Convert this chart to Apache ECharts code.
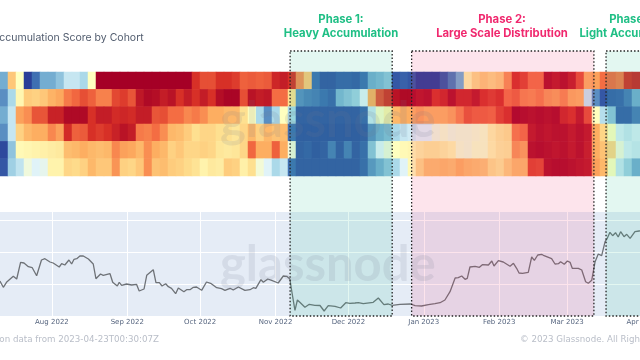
<!DOCTYPE html>
<html><head><meta charset="utf-8">
<style>html,body{margin:0;padding:0;background:#fff}#c{width:640px;height:360px;filter:blur(0.35px)}</style>
<script src="https://cdn.jsdelivr.net/npm/echarts@6/dist/echarts.min.js"></script>
</head><body><div id="c"></div>
<script>
// Heatmap score, one value per column; 0 = deep red (distribution), 10 = deep blue (accumulation)
const cohort1 = [8,3.5,5,10,9,8,8,7.5,6.5,6.5,7,5,0,0,0,0,0,0,0,0,0,0,0,0,1,1.5,1.5,1,1,1.2,1.8,1.7,1.8,1.7,.8,.6,1,2.5,3.5,9,9.5,9.5,9.3,9.3,9.4,9,8,7.8,7.5,9.5,9.3,9.5,10,10,10,9.5,8.8,8,4.5,3.8,3.5,3.7,3.5,2.5,1,1.3,2,2,.3,.5,.3,.6,1.5,3,2.8,2,2,2.2,1,.8];
const cohort2 = [8.5,7,4.7,3.6,3.7,3.5,3.1,2.9,2.2,1.9,1.5,1.8,2.3,2.3,1.4,1.2,1.6,.5,.2,.3,.6,.4,1,.6,1,.6,1,.3,.1,.1,1.5,.4,.6,.5,2,2,4,8.5,8.7,8.8,9,9.2,7.8,7.5,7.2,6,3,1.5,1,.4,.2,.2,.4,.3,1,.8,.3,.8,.8,.5,1,1.2,1,2,1.8,2.3,2.4,2.2,2.6,2.7,2.4,2.9,3,6.5,8.5,9.5,9.3,9.2,8.8,8];
const cohort3 = [8,6.5,2.8,2.5,1.6,1.6,.7,.7,.2,.2,.2,1,.6,.6,.9,.8,.9,.6,.6,1.6,1.5,2,2,2.4,2.2,2.5,3,3,3.2,3.2,4,5,7,8.5,7,5,7,9.5,9.5,9.5,9.5,9.5,9.5,9.5,9.5,9.2,6.5,5.2,4.6,3.2,3,3,2.8,3,3,3,2.8,2.3,1.6,1.8,1.8,1.9,1.3,1,.1,.2,.3,.2,.3,.2,.8,1,.5,1.5,5,6.8,7.5,9.3,9.3,8.8];
const cohort4 = [8.5,6.5,3.7,3.2,3,3,2.4,2.8,.9,1.8,1.7,1,1.2,1,.7,.4,.6,2.2,2.3,2,2.5,3.2,3.3,3.6,4,3.8,3.8,4,4,4.2,3.8,3.2,3.7,3.2,3.4,3.3,9,9.6,9.6,9.6,9.6,9.6,9.6,9.6,9.6,9.5,8.5,8,7.7,7,6.5,6.3,6,6,5.5,5.3,5.5,5.4,5.4,5.3,5.2,4.5,4.2,4,2.2,2,.5,.3,.4,.3,.3,.5,.3,.5,3,3.8,5,6.2,6.5,6.2];
const cohort5 = [9.8,7.5,4.8,4.7,4.6,4.5,4.4,4.3,3.3,3.2,3,3.2,3.3,3.2,2.4,2.8,2.9,3.2,2.5,3,3.2,3.7,3.5,3.8,3.8,3.7,3.8,4.2,4.3,4.2,3.8,1.9,3,3,1.8,3,5.5,9.5,9.4,9.6,9.5,8.8,9.5,8.8,9.5,9.2,7.5,6,5.5,5,4.8,4.7,4.4,4.2,4.2,4.4,4.6,5.3,5.4,5.2,5.2,4.6,4.3,4.2,2.6,2.8,.3,.2,.3,.4,.3,.5,.3,.6,3,3.4,3.8,5.5,6.2,6.4];
const cohort6 = [9.5,7.2,6.6,5.5,6,5.8,4.6,4.6,3.8,3.9,3.7,3.2,3.5,3.5,2.6,3.7,3.8,3.5,2.5,3.4,3.3,3.6,3.7,3.9,4.1,4.6,4.3,4.4,3.6,3.7,4.5,4,5.4,6,7,6.5,9,9.5,9.5,9.5,9.5,9.5,9.5,9.5,9.5,9.2,8.4,8,7.5,7,6,4.8,3.8,3.3,3.3,3.2,3.3,3,3.2,3.3,3.4,3.9,4.1,3.6,3.2,3.2,1.3,1.4,.3,.2,.2,.3,.4,.5,2.8,3.2,5,6.5,7.2,8];
const cohorts = [cohort1, cohort2, cohort3, cohort4, cohort5, cohort6];

// Price line: [days since 2022-08-01, level]
const pricePoints = [[-21.4,35],[-20,28.7],[-18.7,33.7],[-15.9,39.7],[-14.5,37],[-12.9,53.7],[-11.5,53],[-9.7,49.3],[-8.1,48.3],[-6.3,40.3],[-4.3,56],[-2.9,57.3],[-.8,54],[.5,53],[3,49],[4,52.3],[5.3,51],[7,56],[8.1,52],[9.1,56.7],[10.2,57.3],[11.5,60],[12.9,60],[15,57],[17,52],[18.1,37.3],[20,42],[21.1,40.7],[23.9,42.3],[25,33.7],[26.9,30],[27.7,33.7],[28.7,30.7],[30.7,32],[32.8,31],[34.8,31.7],[35.9,25],[37.9,27],[39,40.7],[41.7,46.3],[42.8,33.3],[44.2,33.3],[45.3,30],[46.8,32.3],[47.9,29.3],[49.2,27.7],[50.9,22.3],[52,28],[54.3,24.3],[55.4,26.3],[56.8,26.3],[58.2,28.7],[59.5,29],[61.6,25.7],[63.6,34],[65.3,32.7],[67.8,28.3],[69.8,27.3],[71.2,25.7],[73.3,27.7],[74.6,26],[76.7,29],[79.4,25.7],[81.5,26.3],[82.9,28.3],[83.9,27.7],[86,36.3],[87,33.7],[88.8,37],[90.4,35.7],[93.1,33],[95.2,40],[96.6,39.7],[97.9,37],[98.6,26],[100,5.7],[101,16],[102,13.7],[104.1,8.7],[105.9,11.7],[108.2,10.7],[110.3,10.5],[112,5],[113.7,10.3],[116.5,9.7],[118.8,8],[120.9,13.3],[122.6,12.7],[124.7,13],[126.1,13.3],[128.1,12.3],[128.8,14.3],[132.2,13.7],[134.3,18],[136.6,11.3],[138.4,12],[140,10.7],[143.2,11.7],[147.6,12],[149.4,10.3],[152.1,10],[154.9,11.3],[157.6,12.3],[159.7,13.3],[161.7,16],[163.8,24.3],[165.9,38],[167.2,38.3],[168.6,40],[170,36.7],[170.9,37.7],[172,49],[174.1,49.7],[175.9,48.7],[177.1,51.3],[179.6,51],[181,55],[181.9,50],[183.7,55.3],[185.7,54],[188.5,49.7],[189.9,52.7],[191.2,47.7],[192.2,43],[193.6,42.7],[196,43.7],[197.4,59],[198.5,55.7],[199.9,61],[201.5,61.7],[202.5,60.3],[203.2,62.3],[205.6,57.3],[207,52],[208.4,52.3],[209.3,54.3],[210.8,51.7],[212.1,55],[213.2,53.7],[214.1,47.7],[216.6,47.7],[218,46],[219.6,34.3],[220.7,32.7],[222.1,35.7],[223.5,54.3],[224.8,62],[226.2,60.3],[227.6,74.3],[228.5,77.7],[229.6,83.7],[230.7,80.3],[231.9,83.3],[233,79],[234,84.3],[235.4,79.3],[236.5,81.7],[237.9,77.7],[239.9,84.3],[241.6,85],[244,86]];
const priceGridLevels = [32, 64, 96];

const monthTicks = ['2022-08-01','2022-09-01','2022-10-01','2022-11-01','2022-12-01','2023-01-01','2023-02-01','2023-03-01','2023-04-01'];
const monthLabels = ['Aug 2022','Sep 2022','Oct 2022','Nov 2022','Dec 2022','Jan 2023','Feb 2023','Mar 2023','Apr 2023'];
const phaseStart = ['2022-11-07','2022-12-27','2023-03-17'];
const phaseEnd   = ['2022-12-19','2023-03-12','2023-05-01'];
const phaseKind  = ['green','pink','green'];

const DAY = 86400000, T0 = Date.UTC(2022,7,1);
const ms = s => new Date(s + 'T00:00:00Z').getTime();
const axisMin = T0 - 29.6*DAY, axisMax = T0 + 250.2*DAY;

const heatData = [];
cohorts.forEach((row,r)=>row.forEach((v,c)=>heatData.push([c,r,v])));
const columns = cohort1.map((_,i)=>i);
const rows = cohorts.map((_,i)=>i);
const linePts = pricePoints.map(p=>[T0+p[0]*DAY,p[1]]);
const tickVals = monthTicks.map(ms);

const chart = echarts.init(document.getElementById('c'),null,{renderer:'canvas'});
const wmStyle = {fontFamily:'Lato',fontSize:49,fontWeight:700,fill:'rgba(110,120,140,0.14)',textAlign:'left',textVerticalAlign:'middle',text:'glassnode'};
chart.setOption({
  animation:false,
  backgroundColor:'#fff',
  grid:[
    {left:0,width:640,top:72,height:104,show:false,outerBoundsMode:'none'},
    {left:-20,width:680,top:212,height:104,show:true,backgroundColor:'#e5ecf6',borderWidth:0,outerBoundsMode:'none'},
    {left:-20,width:680,top:51,height:265,show:false,outerBoundsMode:'none'}
  ],
  xAxis:[
    {gridIndex:0,type:'category',data:columns,show:false},
    {gridIndex:1,type:'value',min:axisMin,max:axisMax,
      axisLine:{show:false},
      axisTick:{show:false,customValues:tickVals},
      splitLine:{show:true,lineStyle:{color:'#ffffff',width:1}},
      axisLabel:{show:true,customValues:tickVals,margin:3,color:'#56657f',fontFamily:'DejaVu Sans',fontSize:7,hideOverlap:false,showMinLabel:true,showMaxLabel:true,
        formatter:v=>monthLabels[tickVals.indexOf(+v)]||''}},
    {gridIndex:2,type:'value',min:axisMin,max:axisMax,show:false}
  ],
  yAxis:[
    {gridIndex:0,type:'category',data:rows,inverse:true,show:false},
    {gridIndex:1,type:'value',min:0,max:104,
      axisLine:{show:false},axisTick:{show:false,customValues:priceGridLevels},axisLabel:{show:false,customValues:priceGridLevels},
      splitLine:{show:true,lineStyle:{color:'#ffffff',width:1}}},
    {gridIndex:2,type:'value',min:0,max:1,show:false}
  ],
  visualMap:{show:false,seriesIndex:0,min:0,max:10,
    inRange:{color:['#a50026','#d73027','#f46d43','#fdae61','#fee090','#ffffbf','#e0f3f8','#abd9e9','#74add1','#3f6fb2','#2a3f98']}},
  series:[
    {type:'heatmap',xAxisIndex:0,yAxisIndex:0,data:heatData,progressive:0,emphasis:{disabled:true}},
    {type:'line',xAxisIndex:1,yAxisIndex:1,data:linePts,showSymbol:false,smooth:false,lineStyle:{color:'#6e7277',width:1.3},z:3},
    {type:'custom',xAxisIndex:2,yAxisIndex:2,z:5,clip:false,silent:true,
      data:phaseStart.map((s,i)=>[ms(s),ms(phaseEnd[i]),i]),
      encode:{x:[0,1]},
      renderItem(params,api){
        const a=api.coord([api.value(0),1]), b=api.coord([api.value(1),0]);
        const green=phaseKind[api.value(2)]==='green';
        return {type:'rect',shape:{x:a[0],y:a[1],width:b[0]-a[0],height:b[1]-a[1]},
          style:{fill:green?'rgba(40,195,145,0.13)':'rgba(240,50,110,0.13)',stroke:'#222',lineWidth:1.3,lineDash:[1.5,2]}};
      }}
  ],
  graphic:[
    {type:'text',z:20,x:220,y:121,style:wmStyle},
    {type:'text',z:20,x:220,y:265,style:wmStyle},
    {type:'text',z:20,x:-8,y:38,style:{text:'Accumulation Score by Cohort',fontFamily:'Inter',fontSize:10.5,fill:'#515c6e',textVerticalAlign:'middle'}},
    {type:'text',z:20,x:341,y:20,style:{text:'Phase 1:',fontFamily:'Inter',fontWeight:700,fontSize:11.3,fill:'#1fbf85',textAlign:'center',textVerticalAlign:'middle'}},
    {type:'text',z:20,x:341,y:33.5,style:{text:'Heavy Accumulation',fontFamily:'Inter',fontWeight:700,fontSize:11.3,fill:'#1fbf85',textAlign:'center',textVerticalAlign:'middle'}},
    {type:'text',z:20,x:502,y:20,style:{text:'Phase 2:',fontFamily:'Inter',fontWeight:700,fontSize:11.3,fill:'#f0286e',textAlign:'center',textVerticalAlign:'middle'}},
    {type:'text',z:20,x:502,y:33.5,style:{text:'Large Scale Distribution',fontFamily:'Inter',fontWeight:700,fontSize:11.3,fill:'#f0286e',textAlign:'center',textVerticalAlign:'middle'}},
    {type:'text',z:20,x:633,y:20,style:{text:'Phase 3:',fontFamily:'Inter',fontWeight:700,fontSize:11.3,fill:'#1fbf85',textAlign:'center',textVerticalAlign:'middle'}},
    {type:'text',z:20,x:633,y:33.5,style:{text:'Light Accumulation',fontFamily:'Inter',fontWeight:700,fontSize:11.3,fill:'#1fbf85',textAlign:'center',textVerticalAlign:'middle'}},
    {type:'text',z:20,x:159,y:340,style:{text:'Based on data from 2023-04-23T00:30:07Z',fontFamily:'DejaVu Sans',fontSize:8.7,fill:'#b9bec8',textAlign:'right',textVerticalAlign:'middle'}},
    {type:'text',z:20,x:520,y:340,style:{text:'© 2023 Glassnode. All Rights Reserved.',fontFamily:'DejaVu Sans',fontSize:8.7,fill:'#b9bec8',textVerticalAlign:'middle'}}
  ]
});
</script></body></html>
